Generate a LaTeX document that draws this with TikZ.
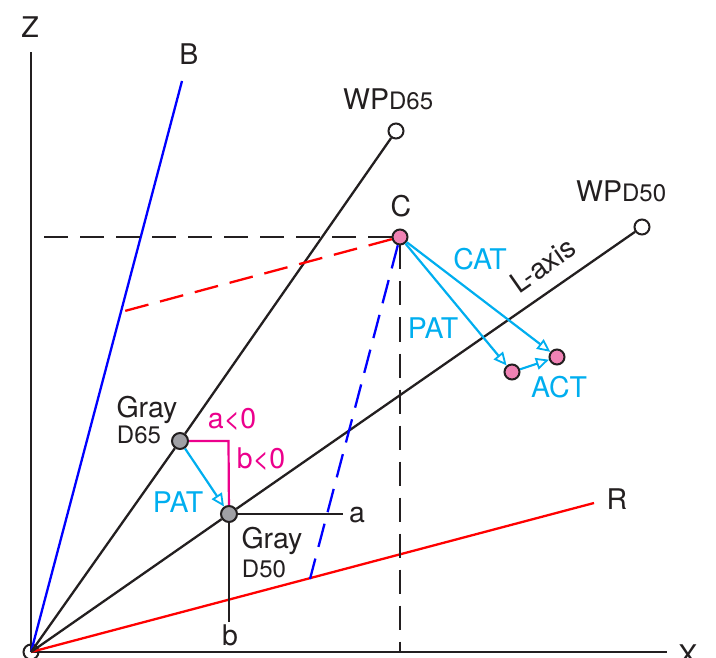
\documentclass[tikz,border=0pt]{standalone}
\usepackage{fontspec}
\setmainfont{TeX Gyre Heros}
\usetikzlibrary{arrows.meta}
\definecolor{cy}{RGB}{0,174,239}
\definecolor{mg}{RGB}{236,0,140}
\definecolor{pk}{RGB}{240,130,180}
\definecolor{gr}{RGB}{160,160,165}
\definecolor{ink}{RGB}{35,31,32}
\begin{document}
\begin{tikzpicture}[x=1pt,y=-1pt,
  ln/.style={line width=2.3pt, draw=ink},
  dashline/.style={line width=2.3pt, dash pattern=on 24pt off 12pt},
  dot/.style={circle, draw=ink, line width=2pt, minimum size=15pt, inner sep=0pt},
  gdot/.style={dot, fill=gr, minimum size=16pt},
  catarrow/.style={line width=2.2pt, draw=cy, -{Triangle[open, length=13pt, width=12pt, line width=1.8pt]}},
  big/.style={font=\fontsize{28.5}{31}\selectfont, text=ink, anchor=base, inner sep=0pt},
  small/.style={font=\fontsize{24}{26}\selectfont, text=ink, anchor=base, inner sep=0pt}
]
\useasboundingbox (0,0) rectangle (716,658);

% origin
\node[dot, fill=white] (Oc) at (31,652) {};

% coordinates
\coordinate (Zend) at (31,52);
\coordinate (Xend) at (667,652);
\coordinate (Bend) at (182,81);
\coordinate (Rend) at (594,503);
\coordinate (Bp) at (121,312);
\coordinate (Rp) at (310,579);
\coordinate (Zc) at (31,237);
\coordinate (Xc) at (400,652);
\coordinate (aend) at (343,514);
\coordinate (bend) at (229,622);
\coordinate (corner) at (228.5,441);

% points
\node[dot, fill=white] (W65) at (396,131) {};
\node[dot, fill=white] (W50) at (642,227) {};
\node[dot, fill=pk] (C) at (400,237) {};
\node[gdot] (G65) at (180,441) {};
\node[gdot] (G50) at (229,514) {};
\node[dot, fill=pk] (P1) at (512,372) {};
\node[dot, fill=pk] (P2) at (557,357) {};

% axes
\draw[ln] (Oc.center) -- (Zend);
\draw[ln] (Oc.center) -- (Xend);
% primaries
\draw[line width=2.3pt, draw=blue] (Oc.center) -- (Bend);
\draw[line width=2.3pt, draw=red] (Oc.center) -- (Rend);
% neutral axes
\draw[ln] (Oc.center) -- (G65) -- (W65);
\draw[ln] (Oc.center) -- (G50) -- (W50);
\draw[ln] (G50) -- (aend);
\draw[ln] (G50) -- (bend);

% dashed projections
\draw[dashline, draw=ink] (C) -- (Zc);
\draw[dashline, draw=ink] (C) -- (Xc);
\draw[dashline, draw=red] (C) -- (Bp);
\draw[dashline, draw=blue] (C) -- (Rp);

% magenta a/b
\draw[line width=2.2pt, draw=mg] (G65) -- (corner) -- (G50);

% cyan arrows
\draw[catarrow] (G65) -- (G50);
\draw[catarrow] (C) -- (P2);
\draw[catarrow] (C) -- (P1);
\draw[catarrow] (P1) -- (P2);

% labels
\node[big] (lZ) at (30,38) {Z};
\node[big] (lX) at (688,665) {X};
\node[big] (lB) at (189,65) {B};
\node[big] (lR) at (617,509) {R};
\node[big, anchor=base west] (lW65) at (343,110) {WP\fontsize{24}{26}\selectfont D65};
\node[big, anchor=base west] (lW50) at (576,202) {WP\fontsize{24}{26}\selectfont D50};
\node[big] (lC) at (401,217) {C};
\node[big, text=cy] (lCAT) at (480,270) {CAT};
\node[big, text=cy] (lPAT1) at (433,338) {PAT};
\node[big, text=cy] (lACT) at (559,397) {ACT};
\node[big, text=cy] (lPAT2) at (178,512) {PAT};
\node[big, text=mg] (la) at (232,428) {a<0};
\node[big, text=mg] (lb) at (261,468) {b<0};
\node[big] (lGa) at (147,417) {Gray};
\node[small] (lDa) at (139,443) {D65};
\node[big] (lGb) at (272,548) {Gray};
\node[small] (lDb) at (264,577) {D50};
\node[big] (lax) at (357,522) {a};
\node[big] (lbx) at (230,645) {b};
\node[big, anchor=center, rotate=35] (lL) at (543,265) {L-axis};
\end{tikzpicture}
\end{document}
